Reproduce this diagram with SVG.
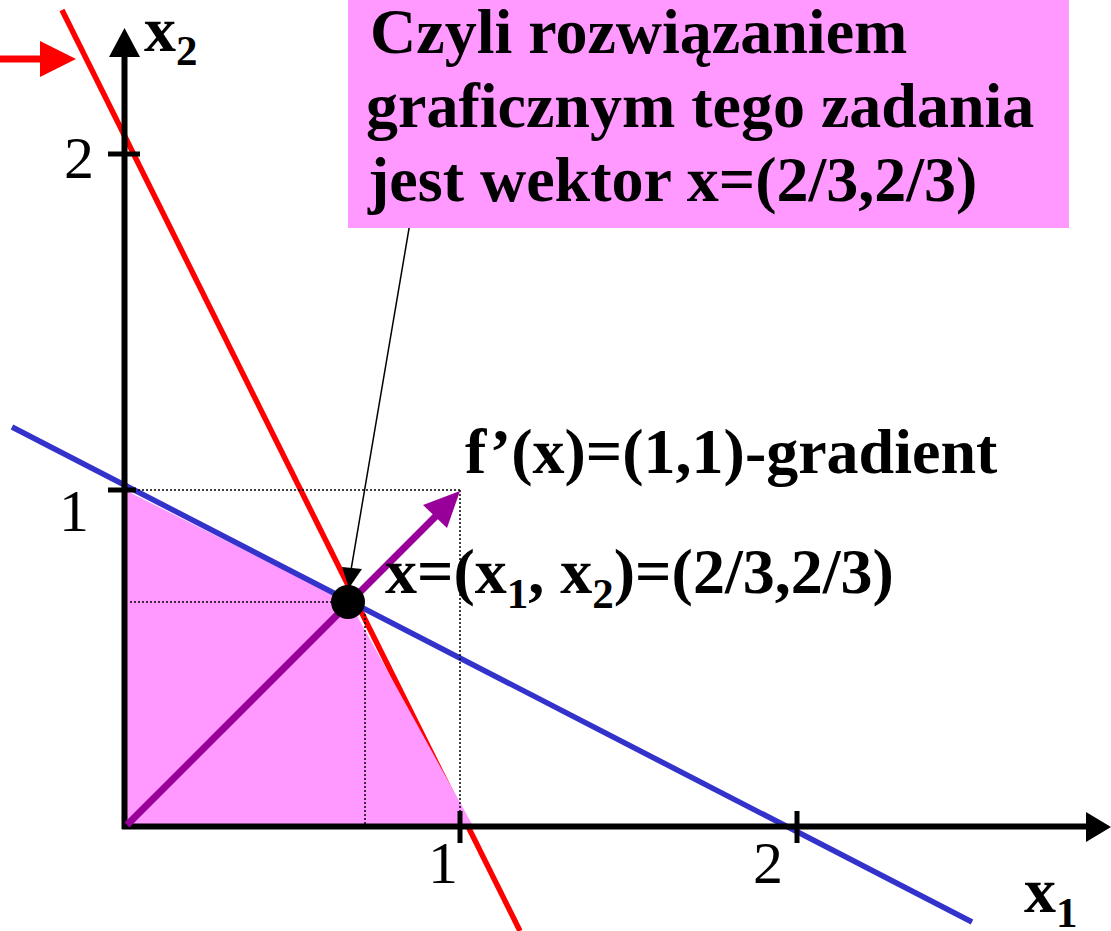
<svg xmlns="http://www.w3.org/2000/svg" width="1111" height="931" viewBox="0 0 1111 931">
<style>
.t{font-family:"Liberation Serif","Times New Roman",serif;fill:#000}
.b{font-weight:bold}
.big{font-size:64px}
.num{font-size:60px}
.sub{font-size:43px}
.dot{stroke:#000;stroke-width:1.5;stroke-dasharray:2 2;fill:none}
.ax{stroke:#000;stroke-width:6;fill:none}
.tick{stroke:#000;stroke-width:5}
</style>
<rect width="1111" height="931" fill="#fff"/>
<g id="constraint-red">
<line x1="62" y1="10" x2="520" y2="931" stroke="#ff0000" stroke-width="5.5"/>
</g>
<g id="feasible-region">
<polygon points="127,491 350,603 473,826 127,826" fill="#ff99ff"/>
</g>
<g id="constraint-blue">
<line x1="12" y1="427" x2="972" y2="922" stroke="#3333cc" stroke-width="5.5"/>
</g>
<g id="guides">
<line class="dot" x1="130" y1="490" x2="460" y2="490"/>
<line class="dot" x1="460" y1="490" x2="460" y2="824"/>
<line class="dot" x1="130" y1="602" x2="333" y2="602"/>
<line class="dot" x1="365" y1="614" x2="365" y2="824"/>
</g>
<g id="axes">
<line class="ax" x1="124.5" y1="829" x2="124.5" y2="55"/>
<polygon points="109,57 124.5,28 140,57" fill="#000"/>
<line class="ax" x1="122" y1="826.5" x2="1088" y2="826.5"/>
<polygon points="1086,812 1111,827 1086,842" fill="#000"/>
<line class="tick" x1="108" y1="154" x2="140" y2="154"/>
<line class="tick" x1="108" y1="490" x2="136" y2="490"/>
<line class="tick" x1="460" y1="811" x2="460" y2="843"/>
<line class="tick" x1="797" y1="811" x2="797" y2="843"/>
<text class="t num" x="94" y="178" text-anchor="end">2</text>
<text class="t num" x="89" y="531" text-anchor="end">1</text>
<text class="t num" x="458" y="883" text-anchor="end">1</text>
<text class="t num" x="783" y="883" text-anchor="end">2</text>
<text class="t b big" x="144" y="51">x<tspan class="sub" dy="14">2</tspan></text>
<text class="t b big" x="1024" y="912">x<tspan class="sub" dy="15">1</tspan></text>
</g>
<g id="connectors">
<g id="gradient-arrow">
<line x1="127" y1="825" x2="440" y2="512" stroke="#990099" stroke-width="7"/>
<polygon points="460,491 447,528 423,505" fill="#990099"/>
</g>
<g id="leader-arrow">
<line x1="413" y1="205" x2="351" y2="570" stroke="#000" stroke-width="1.5"/>
<polygon points="342,567 362,569 349,588" fill="#000"/>
</g>
<g id="red-pointer">
<line x1="0" y1="59" x2="42" y2="59" stroke="#ff0000" stroke-width="7"/>
<polygon points="40,41 76,59 40,77" fill="#ff0000"/>
</g>
</g>
<g id="solution-point">
<circle cx="348" cy="602" r="17" fill="#000"/>
</g>
<g id="callout-box">
<rect x="348" y="0" width="721" height="228" fill="#ff99ff"/>
<text class="t b big" x="370" y="53">Czyli rozwiązaniem</text>
<text class="t b big" x="366" y="127">graficznym tego zadania</text>
<text class="t b big" x="368" y="201">jest wektor x=(2/3,2/3)</text>
</g>
<g id="gradient-label">
<text class="t b big" x="465" y="473">f’(x)=(1,1)-gradient</text>
</g>
<g id="point-label">
<text class="t b big" x="385" y="593">x=(x<tspan class="sub" dy="15">1</tspan><tspan dy="-15">, x</tspan><tspan class="sub" dy="15">2</tspan><tspan dy="-15">)=(2/3,2/3)</tspan></text>
</g>
</svg>
